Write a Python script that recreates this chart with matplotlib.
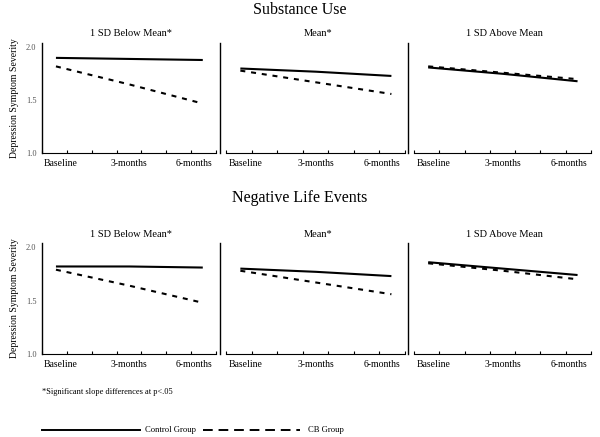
import matplotlib
matplotlib.use("Agg")
import matplotlib.pyplot as plt
from matplotlib.lines import Line2D
import numpy as np

plt.rcParams['font.family'] = ['Liberation Serif', 'DejaVu Serif']

timepoints = ["Baseline", "3-months", "6-months"]
row_titles = ["Substance Use", "Negative Life Events"]
panel_titles = ["1 SD Below Mean*", "Mean*", "1 SD Above Mean"]

# Substance Use
su_control = [[1.90, 1.89, 1.88], [1.80, 1.77, 1.73], [1.81, 1.75, 1.68]]
su_cb = [[1.82, 1.65, 1.47], [1.78, 1.67, 1.56], [1.82, 1.76, 1.70]]
# Negative Life Events
nle_control = [[1.82, 1.82, 1.81], [1.80, 1.77, 1.73], [1.86, 1.80, 1.74]]
nle_cb = [[1.79, 1.64, 1.48], [1.78, 1.67, 1.56], [1.85, 1.78, 1.70]]

control_data = [su_control, nle_control]
cb_data = [su_cb, nle_cb]
yticks = [1.0, 1.5, 2.0]
ytick_labels = ["1.0", "1.5", "2.0"]

W, H = 600, 437
fig = plt.figure(figsize=(W / 100, H / 100), dpi=100)

rows_px = [(43, 153.5), (243, 354)]
cols_px = [(42, 216), (226, 405), (414, 591)]
title_y_px = [10, 198]
ptitle_y_px = [33, 234]

xleft, xright = -0.19, 2.18
tick_label_pos = [0.07, 1.0, 1.88]

for r in range(2):
    top, bot = rows_px[r]
    fig.text(0.5, 1 - title_y_px[r] / H, row_titles[r], ha='center', va='center', fontsize=11.5)
    for c in range(3):
        l, rr = cols_px[c]
        ax = fig.add_axes([l / W, 1 - bot / H, (rr - l) / W, (bot - top) / H])
        x = np.arange(len(timepoints))
        ax.plot(x, control_data[r][c], color='black', lw=1.5, solid_capstyle='butt')
        ax.plot(x, cb_data[r][c], color='black', lw=1.5, linestyle=(0, (2.4, 2.8)))
        ax.set_xlim(xleft, xright)
        ax.set_ylim(1.0, 2.04)
        for s in ['top', 'right']:
            ax.spines[s].set_visible(False)
        ax.spines['left'].set_linewidth(1.0)
        ax.spines['bottom'].set_linewidth(0.8)
        if c > 0:
            ax.spines['left'].set_position(('outward', 4))
        # minor tick marks at regular spacing
        ax.set_xticks(np.linspace(xleft, xright, 8), minor=True)
        ax.tick_params(axis='x', which='minor', direction='in', length=2.5, width=0.8)
        ax.set_xticks(tick_label_pos)
        ax.set_xticklabels(timepoints, fontsize=7)
        ax.tick_params(axis='x', which='major', length=0, pad=4)
        ax.set_yticks(yticks)
        if c == 0:
            ax.set_yticklabels(ytick_labels, fontsize=6, color='#555555')
            ax.set_ylabel("Depression Symptom Severity", fontsize=7, labelpad=5)
        else:
            ax.set_yticklabels([])
        ax.tick_params(axis='y', length=0, pad=4)
        fig.text((l + rr) / 2 / W + 0.004, 1 - ptitle_y_px[r] / H, panel_titles[c],
                 ha='center', va='center', fontsize=7.5)

fig.text(42 / W, 1 - 392 / H, "*Significant slope differences at p<.05", ha='left', va='center', fontsize=6)

ly = 1 - 430 / H
fig.add_artist(Line2D([42 / W, 140 / W], [ly, ly], color='black', lw=1.4, transform=fig.transFigure))
fig.text(145 / W, ly, "Control Group", ha='left', va='center', fontsize=6.2)
fig.add_artist(Line2D([203 / W, 300 / W], [ly, ly], color='black', lw=1.4, linestyle=(0, (5, 3)),
                      transform=fig.transFigure))
fig.text(308 / W, ly, "CB Group", ha='left', va='center', fontsize=6.2)

fig.savefig("out.png", dpi=100)
